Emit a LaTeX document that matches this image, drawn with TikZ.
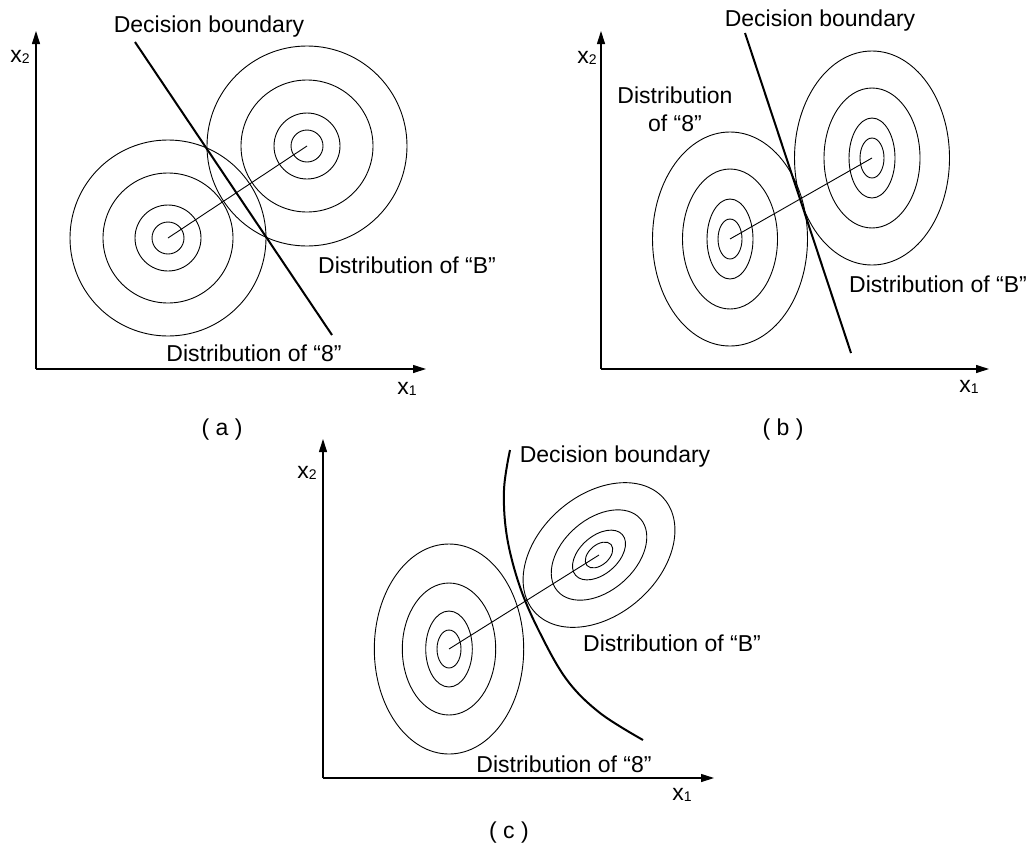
\documentclass[tikz,border=0pt]{standalone}
\usepackage{fontspec}
\setmainfont{Liberation Sans}
\usetikzlibrary{arrows.meta}
\tikzset{
  axis/.style={line width=1.1pt, -{Triangle[length=13pt,width=8pt]}},
  ring/.style={line width=0.9pt},
  bound/.style={line width=2pt},
  link/.style={line width=0.9pt},
  lbl/.style={anchor=base, inner sep=0pt, font=\fontsize{23}{27}\selectfont},
}
\newcommand{\xsub}[1]{x\raisebox{-1pt}{\fontsize{14}{14}\selectfont #1}}
\begin{document}
\begin{tikzpicture}[x=1pt,y=-1pt]
\useasboundingbox (0,0) rectangle (1032,846);
% ---------------- panel (a)
\coordinate (aO) at (36,369);
\coordinate (aY) at (36,31);
\coordinate (aX) at (426,369);
\draw[axis] (aO) -- (aY);
\draw[axis] (aO) -- (aX);
\coordinate (a8) at (168,238);
\coordinate (aB) at (307,146);
\foreach \r in {16,33,65,98} \draw[ring] (a8) circle[radius=\r pt];
\foreach \r in {16,33,66,100} \draw[ring] (aB) circle[radius=\r pt];
\draw[link] (a8) -- (aB);
\coordinate (ab1) at (135,42);
\coordinate (ab2) at (332,335);
\draw[bound] (ab1) -- (ab2);
\node[lbl] (aDB) at (209,32) {Decision boundary};
\node[lbl] (aD8) at (254,361) {Distribution of “8”};
\node[lbl] (aDBB) at (407,273) {Distribution of “B”};
\node[lbl] (ax2) at (20,62) {\xsub{2}};
\node[lbl] (ax1) at (407,394) {\xsub{1}};
\node[lbl] (acap) at (222,435) {( a )};
% ---------------- panel (b)
\coordinate (bO) at (601,369);
\coordinate (bY) at (601,31);
\coordinate (bX) at (989,369);
\draw[axis] (bO) -- (bY);
\draw[axis] (bO) -- (bX);
\coordinate (b8) at (730,239);
\coordinate (bB) at (872,158);
\foreach \rx/\ry in {12/20,23/40,47.5/70,77.5/107}
  \draw[ring] (b8) ellipse[x radius=\rx pt, y radius=\ry pt];
\foreach \rx/\ry in {12/20,23/40,48/70,77.5/107}
  \draw[ring] (bB) ellipse[x radius=\rx pt, y radius=\ry pt];
\draw[link] (b8) -- (bB);
\coordinate (bb1) at (745,33);
\coordinate (bb2) at (851,353);
\draw[bound] (bb1) -- (bb2);
\node[lbl] (bDB) at (820,26) {Decision boundary};
\node[lbl] (bD8a) at (675,103) {Distribution};
\node[lbl] (bD8b) at (675,131) {of “8”};
\node[lbl] (bDBB) at (938,292) {Distribution of “B”};
\node[lbl] (bx2) at (587,63) {\xsub{2}};
\node[lbl] (bx1) at (969,392) {\xsub{1}};
\node[lbl] (bcap) at (783,435) {( b )};
% ---------------- panel (c)
\coordinate (cO) at (323,778);
\coordinate (cY) at (323,439);
\coordinate (cX) at (714,778);
\draw[axis] (cO) -- (cY);
\draw[axis] (cO) -- (cX);
\coordinate (c8) at (449,649);
\coordinate (cB) at (599,555);
\foreach \rx/\ry in {12/19,23.3/38,46.7/66,74.7/105}
  \draw[ring] (c8) ellipse[x radius=\rx pt, y radius=\ry pt];
\foreach \rx/\ry in {16/10,31/19,55/36,86/60}
  \draw[ring, rotate around={41:(cB)}] (cB) ellipse[x radius=\rx pt, y radius=\ry pt];
\draw[link] (c8) -- (cB);
\draw[bound] plot[smooth, tension=0.6] coordinates {(510,450) (504,490) (507,537) (520,587) (540,633) (567,680) (600,713) (643,740)};
\node[lbl] (cDB) at (615,462) {Decision boundary};
\node[lbl] (cDBB) at (672,651) {Distribution of “B”};
\node[lbl] (cD8) at (564,772) {Distribution of “8”};
\node[lbl] (cx2) at (307,478) {\xsub{2}};
\node[lbl] (cx1) at (682,800) {\xsub{1}};
\node[lbl] (ccap) at (509,838) {( c )};
\end{tikzpicture}
\end{document}
